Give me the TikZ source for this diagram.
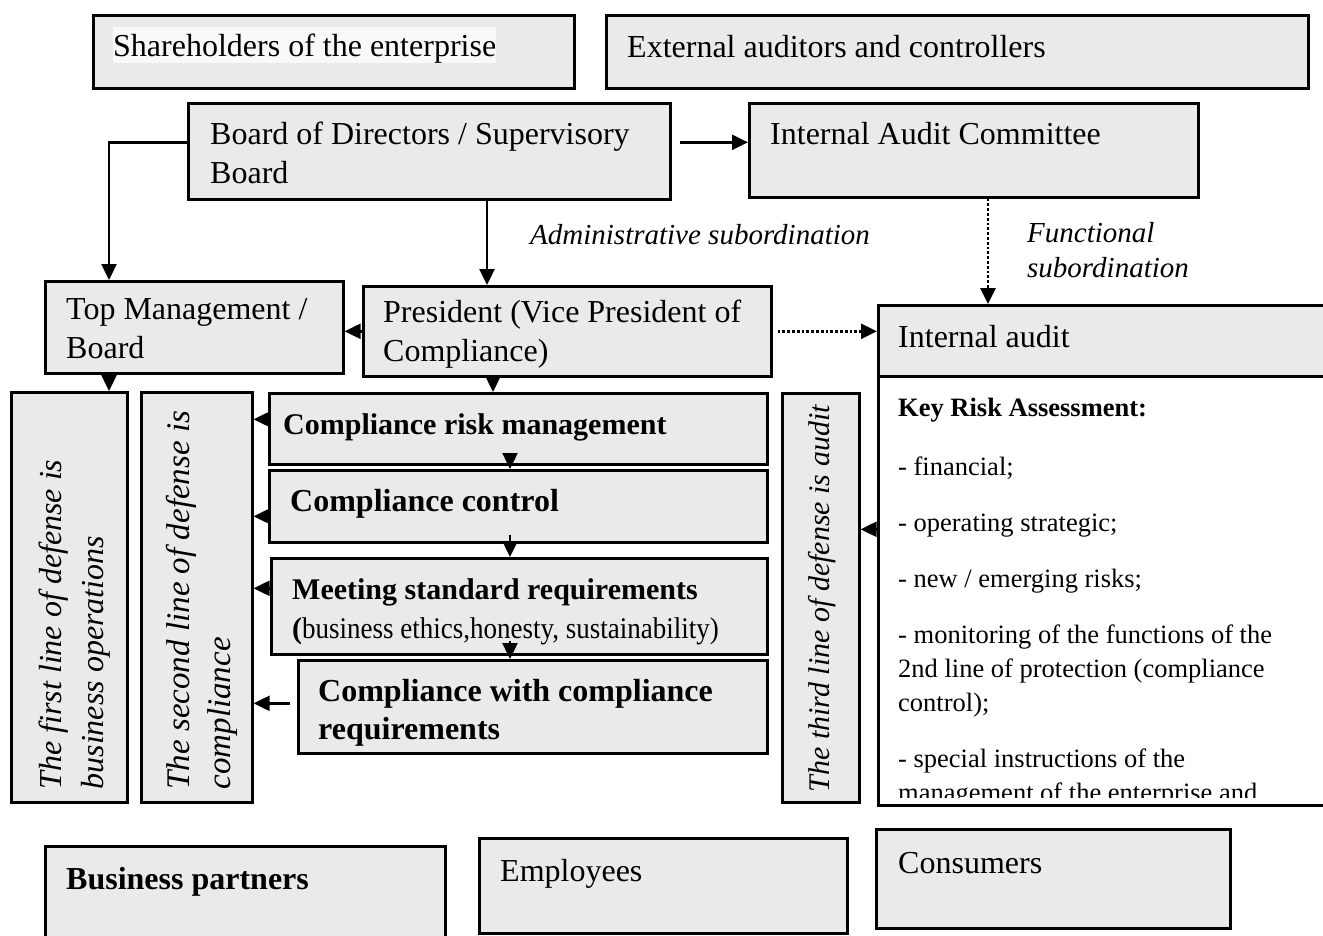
\documentclass[tikz,border=0pt]{standalone}
\usepackage{fontspec}
\usepackage{graphicx}
\setmainfont{Liberation Serif}
\usetikzlibrary{arrows.meta}
\definecolor{boxgray}{RGB}{234,234,234}
\definecolor{hilite}{RGB}{248,249,250}
\begin{document}
\begin{tikzpicture}[x=1pt,y=-1pt,
  box/.style={draw=black, line width=2.6pt, fill=boxgray, inner sep=0pt, anchor=north west},
  whitebox/.style={draw=black, line width=2.6pt, fill=white, inner sep=0pt, anchor=north west},
  lbl/.style={inner sep=0pt, anchor=base west, align=left, font=\fontsize{32}{39}\selectfont},
  blbl/.style={lbl, font=\fontsize{32}{38}\selectfont\bfseries},
  ital/.style={inner sep=0pt, anchor=base west, align=left, font=\fontsize{29}{35}\selectfont\itshape},
  vlbl/.style={inner sep=0pt, rotate=90, anchor=west, align=left, font=\fontsize{32}{42}\selectfont\itshape},
  arr/.style={line width=2.4pt, -{Triangle[length=16pt,width=15pt]}},
  dotarr/.style={line width=2.8pt, dotted, -{Triangle[length=16pt,width=15pt]}}
]
\useasboundingbox (0,0) rectangle (1323,935);
\clip (0,0) rectangle (1323,935);

% top row (multi-line labels are placed by the baseline of their last line)
\node[box, minimum width=481, minimum height=73] (sh) at (92,14) {};
\node[lbl, fill=hilite, text height=29pt, text depth=7pt] (sh-t) at (113,56) {Shareholders of the enterprise};
\node[box, minimum width=702, minimum height=73] (ext) at (605,14) {};
\node[lbl] (ext-t) at (627,57) {External auditors and controllers};

% governance
\node[box, minimum width=482, minimum height=96] (bod) at (187,102) {};
\node[lbl] (bod-t) at (210,183) {Board of Directors / Supervisory\\Board};
\node[box, minimum width=449, minimum height=94] (iac) at (748,102) {};
\node[lbl] (iac-t) at (770,144) {Internal Audit Committee};

\node[ital] (adm) at (530,244) {Administrative subordination};
\node[ital] (fun) at (1027,277) {Functional\\subordination};

% management level
\node[box, minimum width=298, minimum height=92] (tm) at (44,280) {};
\node[lbl] (tm-t) at (66,358) {Top Management /\\Board};
\node[box, minimum width=408, minimum height=90] (pres) at (362,285) {};
\node[lbl] (pres-t) at (383,361) {President (Vice President of\\Compliance)};

% internal audit
\node[whitebox, minimum width=470, minimum height=429] (iaw) at (877,375) {};
\node[box, minimum width=470, minimum height=71] (ia) at (877,304) {};
\node[lbl] (ia-t) at (898,347) {Internal audit};
\begin{scope}
  \clip (879,377) rectangle (1323,797);
  \node[inner sep=0pt, anchor=base west, align=left, font=\fontsize{26.5}{34}\selectfont] (kra) at (898,801)
    {\textbf{Key Risk Assessment:}\\[25pt]
     - financial;\\[22pt]
     - operating strategic;\\[22pt]
     - new / emerging risks;\\[22pt]
     - monitoring of the functions of the\\
     2nd line of protection (compliance\\
     control);\\[22pt]
     - special instructions of the\\
     management of the enterprise and};
\end{scope}

% lines of defense
\node[box, minimum width=116, minimum height=410] (first) at (10,391) {};
\node[vlbl] (first-t) at ([xshift=5pt,yshift=14pt]first.south) {The first line of defense is\\business operations};
\node[box, minimum width=111, minimum height=410] (second) at (140,391) {};
\node[vlbl, font=\fontsize{33}{41}\selectfont\itshape] (second-t) at ([xshift=5pt,yshift=14pt]second.south) {The second line of defense is\\compliance};
\node[box, minimum width=77, minimum height=409] (third) at (781,392) {};
\node[vlbl, font=\fontsize{30}{34}\selectfont\itshape] (third-t) at ([xshift=1pt,yshift=11pt]third.south) {The third line of defense is audit};

% compliance chain
\node[box, minimum width=498, minimum height=71] (crm) at (268,392) {};
\node[blbl, font=\fontsize{30}{36}\selectfont\bfseries] (crm-t) at (283,434) {Compliance risk management};
\node[box, minimum width=498, minimum height=72] (cc) at (268,469) {};
\node[blbl] (cc-t) at (290,511) {Compliance control};
\node[box, minimum width=496, minimum height=96] (msr) at (270,557) {};
\node[lbl, font=\fontsize{30}{39}\selectfont] (msr-t) at (292,638)
  {\textbf{Meeting standard requirements}\\\textbf{(}\scalebox{0.9}[1]{business ethics,honesty, sustainability)}};
\node[box, minimum width=469, minimum height=93] (cwc) at (297,659) {};
\node[blbl] (cwc-t) at (318,739) {Compliance with compliance\\requirements};

% stakeholders
\node[box, minimum width=400, minimum height=100] (bp) at (44,845) {};
\node[blbl] (bp-t) at (66,889) {Business partners};
\node[box, minimum width=368, minimum height=95] (emp) at (478,837) {};
\node[lbl] (emp-t) at (500,881) {Employees};
\node[box, minimum width=354, minimum height=99] (con) at (875,828) {};
\node[lbl] (con-t) at (898,873) {Consumers};

% connectors
\coordinate (b1) at ([xshift=8pt,yshift=9pt]bod.east);
\draw[arr] (b1) -- (b1 -| iac.west);
\coordinate (b2) at ([yshift=9pt]bod.west);
\coordinate (t1) at ([xshift=65pt]tm.north west);
\draw[arr] (b2) -| (t1);
\coordinate (b3) at ([xshift=300pt]bod.south west);
\draw[arr] (b3) -- (b3 |- pres.north);
\draw[arr] (pres.west) -- (pres.west -| tm.east);
\coordinate (p0) at ([xshift=5pt]pres.east);
\draw[dotarr] (p0) -- (p0 -| ia.west);
\coordinate (c1) at ([xshift=240pt]iac.south west);
\draw[dotarr] (c1) -- (c1 |- ia.north);
\coordinate (t2) at ([xshift=65pt]tm.south west);
\draw[arr] (t2) -- (t2 |- first.north);
\coordinate (p2) at ([xshift=131pt]pres.south west);
\draw[arr] (p2) -- (p2 |- crm.north);

\coordinate (m1) at ([xshift=242pt,yshift=8pt]crm.south west);
\draw[arr] (m1) -- (m1 |- cc.north);
\coordinate (m2) at ([xshift=242pt,yshift=9pt]cc.south west);
\draw[arr] (m2) -- (m2 |- msr.north);
\coordinate (m3) at ([xshift=240pt,yshift=15pt]msr.south west);
\draw[arr] (m3) -- (m3 |- cwc.north);

\coordinate (s1) at ([yshift=9.5pt]crm.west);
\draw[arr] (s1) -- (s1 -| second.east);
\coordinate (s2) at ([yshift=-10pt]cc.west);
\draw[arr] (s2) -- (s2 -| second.east);
\coordinate (s3) at ([yshift=18pt]msr.west);
\draw[arr] (s3) -- (s3 -| second.east);
\coordinate (s4) at ([xshift=-7pt,yshift=3.5pt]cwc.west);
\draw[arr] (s4) -- (s4 -| second.east);
\coordinate (a1) at ([yshift=61.5pt]iaw.west);
\draw[arr] (a1) -- (a1 -| third.east);
\end{tikzpicture}
\end{document}
